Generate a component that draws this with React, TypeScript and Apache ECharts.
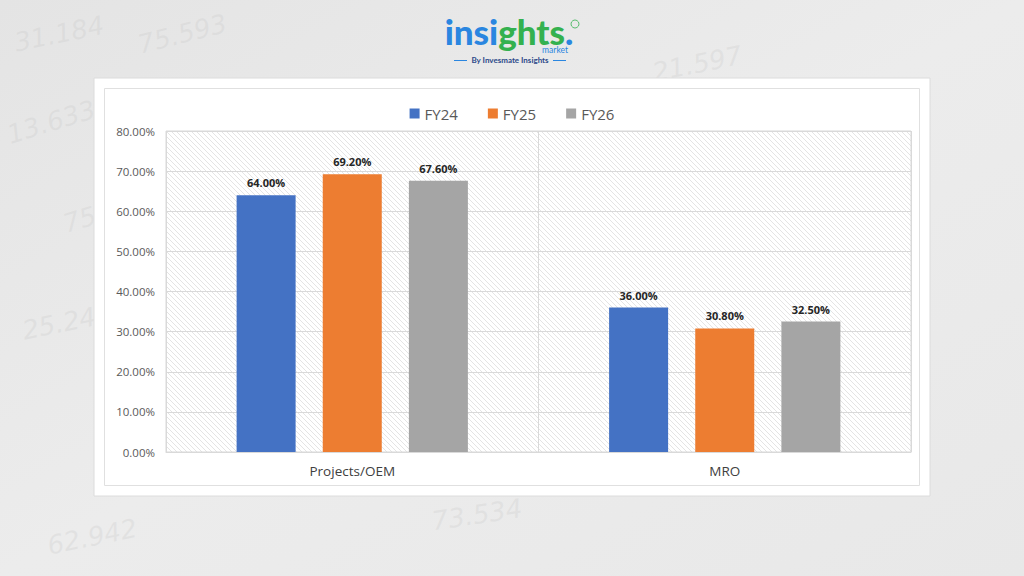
import React, { useEffect, useRef } from "react";
import * as echarts from "echarts";

const categories = ["Projects/OEM", "MRO"];
const seriesNames = ["FY24", "FY25", "FY26"];
const fy24 = [64.0, 36.0];
const fy25 = [69.2, 30.8];
const fy26 = [67.6, 32.5];
const seriesColors = ["#4472C4", "#ED7D31", "#A5A5A5"];
const yTicks = { min: 0, max: 80, interval: 10 };
const bgNumbers = [
  { t: "75.593", x: 135, y: 10, r: 0.25 },
  { t: "21.597", x: 650, y: 42, r: 0.2 },
  { t: "13.633", x: 4, y: 96, r: 0.3 },
  { t: "75.0", x: 60, y: 195, r: 0.3 },
  { t: "25.242", x: 20, y: 300, r: 0.2 },
  { t: "62.942", x: 45, y: 515, r: 0.2 },
  { t: "73.534", x: 430, y: 495, r: 0.15 },
  { t: "31.184", x: 12, y: 12, r: 0.2 },
];

const hatchSvg =
  '<svg xmlns="http://www.w3.org/2000/svg" width="5" height="5">' +
  '<rect width="5" height="5" fill="#ffffff"/>' +
  '<path d="M0,0 L5,5 M-1,4 L1,6 M4,-1 L6,1" stroke="#d9d9d9" stroke-width="0.7"/>' +
  "</svg>";
const hatchUrl = "data:image/svg+xml;charset=utf-8," + encodeURIComponent(hatchSvg);

export default function App() {
  const ref = useRef<HTMLDivElement>(null);
  useEffect(() => {
    document.body.style.margin = "0";
    const chart = echarts.init(ref.current!, null, { renderer: "svg" });
    const dataList = [fy24, fy25, fy26];
    const logoFont = { fontSize: 35, fontWeight: 900, fontFamily: "Lato", lineHeight: 28 };
    const option: any = {
      animation: false,
      backgroundColor: {
        type: "linear",
        x: 0,
        y: 0,
        x2: 1,
        y2: 1,
        colorStops: [
          { offset: 0, color: "#e4e4e4" },
          { offset: 0.5, color: "#ececec" },
          { offset: 1, color: "#e8e8e8" },
        ],
      },
      graphic: [
        ...bgNumbers.map((n) => ({
          type: "text",
          left: n.x,
          top: n.y,
          rotation: n.r,
          silent: true,
          z: -10,
          style: {
            text: n.t,
            fontSize: 26,
            fontStyle: "italic",
            fontFamily: "DejaVu Sans",
            fill: "rgba(200,200,200,0.28)",
          },
        })),
        {
          type: "rect",
          shape: { x: 94, y: 78, width: 836, height: 418 },
          style: { fill: "#ffffff", stroke: "#dcdcdc", lineWidth: 1 },
          z: -5,
          silent: true,
        },
        {
          type: "rect",
          shape: { x: 104.5, y: 88.5, width: 815, height: 397 },
          style: { fill: "none", stroke: "#e0e0e0", lineWidth: 1 },
          z: -4,
          silent: true,
        },
        {
          type: "text",
          x: 509,
          y: 17,
          style: {
            text: "{b|insi}{g|ghts}{d|.}",
            align: "center",
            rich: {
              b: { ...logoFont, fill: "#2a86e0", color: "#2a86e0" },
              g: { ...logoFont, fill: "#34b14f", color: "#34b14f" },
              d: { ...logoFont, fill: "#2a86e0", color: "#2a86e0" },
            },
          },
        },
        {
          type: "circle",
          shape: { cx: 575, cy: 24, r: 4 },
          style: { fill: "none", stroke: "#34b14f", lineWidth: 0.8 },
        },
        {
          type: "text",
          x: 568,
          y: 45,
          style: { text: "market", align: "right", fontSize: 8.5, fontFamily: "Lato", fill: "#2a86e0" },
        },
        {
          type: "line",
          shape: { x1: 454, y1: 60.5, x2: 467, y2: 60.5 },
          style: { stroke: "#2a86e0", lineWidth: 1 },
        },
        {
          type: "line",
          shape: { x1: 553, y1: 60.5, x2: 566, y2: 60.5 },
          style: { stroke: "#2a86e0", lineWidth: 1 },
        },
        {
          type: "text",
          x: 510,
          y: 56,
          style: {
            text: "By Invesmate Insights",
            align: "center",
            fontSize: 8,
            fontWeight: "bold",
            fontFamily: "Lato",
            fill: "#2d4a8a",
          },
        },
      ],
      legend: {
        top: 101,
        left: "center",
        itemWidth: 10,
        itemHeight: 10,
        itemGap: 30,
        icon: "rect",
        textStyle: { fontSize: 15, color: "#595959", fontFamily: "Open Sans" },
        data: seriesNames,
      },
      grid: {
        left: 166,
        right: 113,
        top: 131,
        bottom: 124,
        show: true,
        borderColor: "#d9d9d9",
        borderWidth: 1,
        backgroundColor: { image: hatchUrl, repeat: "repeat" },
      },
      xAxis: {
        type: "category",
        data: categories,
        axisLine: { show: true, lineStyle: { color: "#d9d9d9" } },
        axisTick: { show: false },
        splitLine: { show: true, lineStyle: { color: "#d9d9d9" } },
        axisLabel: { fontSize: 13.5, color: "#404040", fontFamily: "Open Sans", margin: 12 },
      },
      yAxis: {
        type: "value",
        min: yTicks.min,
        max: yTicks.max,
        interval: yTicks.interval,
        axisLine: { show: false },
        axisTick: { show: false },
        splitLine: { lineStyle: { color: "#d9d9d9" } },
        axisLabel: {
          fontSize: 11.5,
          color: "#595959",
          fontFamily: "Open Sans",
          margin: 11,
          formatter: (v: number) => v.toFixed(2) + "%",
        },
      },
      series: seriesNames.map((name, i) => ({
        name,
        type: "bar",
        data: dataList[i],
        barWidth: 59,
        barGap: "46%",
        itemStyle: { color: seriesColors[i] },
        label: {
          show: true,
          position: "top",
          distance: 7,
          fontSize: 11,
          fontWeight: "bold",
          color: "#262626",
          fontFamily: "Open Sans",
          formatter: (p: any) => Number(p.value).toFixed(2) + "%",
        },
      })),
    };
    chart.setOption(option);
    return () => chart.dispose();
  }, []);
  return (
    <div
      ref={ref}
      style={{ position: "absolute", left: 0, top: 0, width: 1024, height: 576 }}
    />
  );
}
